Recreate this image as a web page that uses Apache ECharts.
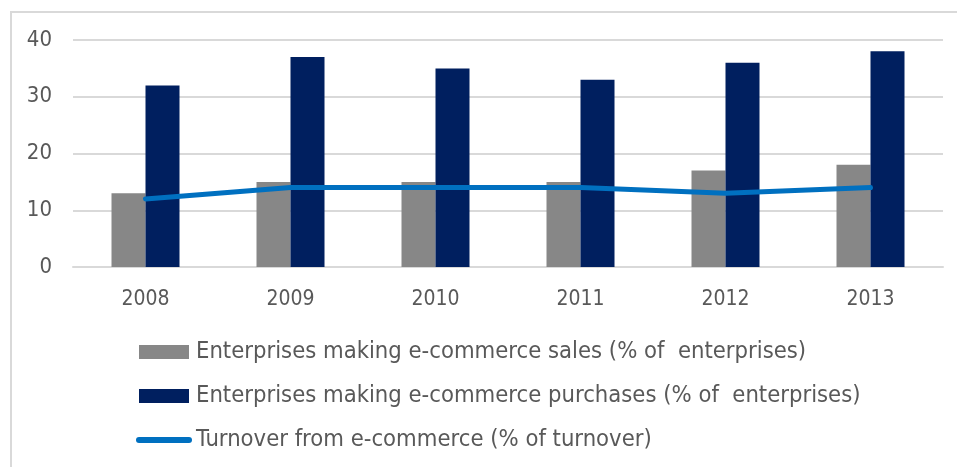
<!DOCTYPE html>
<html>
<head>
<meta charset="utf-8">
<script src="https://cdn.jsdelivr.net/npm/echarts@6/dist/echarts.min.js"></script>
<style>
  html, body { margin: 0; padding: 0; background: #ffffff; }
  #chart { width: 957px; height: 467px; }
</style>
</head>
<body>
<div id="chart"></div>
<script>
// E-commerce indicators by year
const years = ['2008', '2009', '2010', '2011', '2012', '2013'];
const salesShare = [13, 15, 15, 15, 17, 18];
const purchasesShare = [32, 37, 35, 33, 36, 38];
const turnoverShare = [12, 14, 14, 14, 13, 14];

const seriesNames = [
  'Enterprises making e-commerce sales (% of  enterprises)',
  'Enterprises making e-commerce purchases (% of  enterprises)',
  'Turnover from e-commerce (% of turnover)'
];

const FONT = '"DejaVu Sans Condensed", "DejaVu Sans", sans-serif';
const TEXT = '#595959';
const GRID = '#d9d9d9';

const chart = echarts.init(document.getElementById('chart'), null, { renderer: 'canvas' });

chart.setOption({
  backgroundColor: '#ffffff',
  animation: false,
  textStyle: { fontFamily: FONT },
  grid: { left: 73, right: 14, top: 40, bottom: 200, containLabel: false },
  graphic: [
    { type: 'line', shape: { x1: 11, y1: 12, x2: 11, y2: 467 }, style: { stroke: GRID, lineWidth: 2 } },
    { type: 'line', shape: { x1: 10, y1: 12, x2: 957, y2: 12 }, style: { stroke: GRID, lineWidth: 2 } }
  ],
  legend: {
    orient: 'vertical',
    left: 131,
    top: 335,
    itemWidth: 50,
    itemHeight: 14,
    itemGap: 20,
    textStyle: { color: TEXT, fontSize: 23.6, lineHeight: 24, fontFamily: FONT, padding: [0, 0, 0, 2] },
    data: [
      { name: seriesNames[0], icon: 'rect' },
      { name: seriesNames[1], icon: 'rect' },
      {
        name: seriesNames[2],
        itemStyle: { opacity: 0 },
        lineStyle: { width: 6, cap: 'round', color: '#0070c0' }
      }
    ]
  },
  xAxis: {
    type: 'category',
    data: years,
    axisLine: { show: true, lineStyle: { color: GRID, width: 2 } },
    axisTick: { show: false },
    axisLabel: { color: TEXT, fontSize: 21, margin: 22, fontFamily: FONT }
  },
  yAxis: {
    type: 'value',
    min: 0,
    max: 40,
    interval: 10,
    axisLine: { show: false },
    axisTick: { show: false },
    splitLine: { lineStyle: { color: GRID, width: 2 } },
    axisLabel: { color: TEXT, fontSize: 22, margin: 21, fontFamily: FONT }
  },
  series: [
    {
      name: seriesNames[0],
      type: 'bar',
      data: salesShare,
      barWidth: 34,
      barGap: '0%',
      itemStyle: { color: '#878787' }
    },
    {
      name: seriesNames[1],
      type: 'bar',
      data: purchasesShare,
      barWidth: 34,
      barGap: '0%',
      itemStyle: { color: '#001f5f' }
    },
    {
      name: seriesNames[2],
      type: 'line',
      data: turnoverShare,
      symbol: 'none',
      z: 5,
      lineStyle: { color: '#0070c0', width: 5, cap: 'round' },
      itemStyle: { color: '#0070c0' }
    }
  ]
});
</script>
</body>
</html>
